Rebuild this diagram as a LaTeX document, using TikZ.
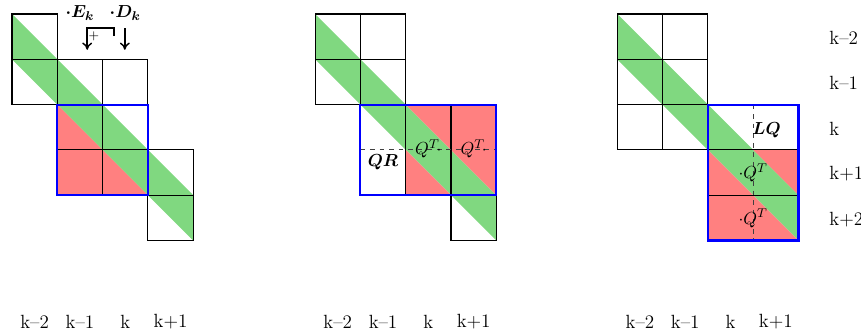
\documentclass[tikz,border=0pt]{standalone}
\usepackage{amsmath,amssymb,bm}
\usepackage{xcolor}
\usepackage{tikz}
\usetikzlibrary{arrows.meta,calc}
\definecolor{bandgreen}{RGB}{128,216,128}
\definecolor{fillred}{RGB}{255,128,128}
\tikzset{
  cell/.style={draw=black,line width=0.7pt},           % one matrix block
  band/.style={fill=bandgreen},                        % banded part
  fillin/.style={fill=fillred},                        % fill-in
  win/.style={draw=blue,line width=1.3pt},             % active window
  cut/.style={draw=black!75,dashed,line width=0.6pt},  % split line
  idx/.style={font=\large,inner sep=1pt},
  op/.style={font=\fontsize{11}{13}\selectfont,inner sep=0.5pt},
  ar/.style={-{To[length=1.6mm,width=2.2mm]},line width=0.9pt}
}

\begin{document}
\begin{tikzpicture}[y=-1cm]
  \useasboundingbox (-0.265,-0.309) rectangle (18.74,7.04);

  % ---- step 1: E_k / D_k acting on the window
  \begin{scope}
    \fill[band] (0,0) -- (4,4) -- (4,5) -- (0,1) -- cycle;
    \fill[fillin] (1,2) -- (3,4) -- (1,4) -- cycle;
    \foreach \c/\r in {0/0,0/1,1/1,2/1,3/3,3/4}
      \draw[cell] (\c,\r) rectangle ++(1,1);
    \draw[cell] (2,2) -- (2,4);
    \draw[cell] (1,3) -- (3,3);
    \draw[win] (1,2) rectangle (3,4);
    \node[op] (Ek) at (1.5,-0.03) {$\bm{\cdot E_k}$};
    \node[op] (Dk) at (2.5,-0.03) {$\bm{\cdot D_k}$};
    \coordinate (dsrc) at (2.25,0.49);
    \coordinate (etip) at (1.66,0.79);
    \coordinate (dtop) at (2.49,0.31);
    \coordinate (dtip) at (2.49,0.79);
    \draw[ar] (dsrc) -- ++(0,-0.18) -| (etip);
    \draw[ar] (dtop) -- (dtip);
    \node[op,font=\footnotesize] (plus) at (1.81,0.5) {$+$};
    \foreach \c/\t in {0/k--2,1/k--1,2/k,3/k+1}
      \node[idx] (ca\c) at (\c+0.5,6.8) {\t};
  \end{scope}

  % ---- step 2: QR of the column block
  \begin{scope}[xshift=6.69cm]
    \fill[band] (0,0) -- (4,4) -- (4,5) -- (0,1) -- cycle;
    \fill[fillin] (2,2) -- (4,2) -- (4,4) -- cycle;
    \fill[fillin] (2,3) -- (3,4) -- (2,4) -- cycle;
    \foreach \c/\r in {0/0,1/0,0/1,1/1,3/4}
      \draw[cell] (\c,\r) rectangle ++(1,1);
    \draw[cell] (2,2) -- (2,4);
    \draw[cell] (3,2) -- (3,4);
    \draw[cut] (1,3) -- (4,3);
    \draw[win] (1,2) rectangle (4,4);
    \node[op,anchor=north] (QR) at (1.5,3.08) {$\bm{QR}$};
    \node[op] (qa) at (2.5,2.98) {$Q^T\!\cdot$};
    \node[op] (qb) at (3.5,2.98) {$Q^T\!\cdot$};
    \foreach \c/\t in {0/k--2,1/k--1,2/k,3/k+1}
      \node[idx] (cb\c) at (\c+0.5,6.8) {\t};
  \end{scope}

  % ---- step 3: LQ of the row block
  \begin{scope}[xshift=13.36cm]
    \fill[band] (0,0) -- (4,4) -- (4,5) -- (0,1) -- cycle;
    \fill[fillin] (3,3) -- (4,3) -- (4,4) -- cycle;
    \fill[fillin] (2,3) -- (4,5) -- (2,5) -- cycle;
    \foreach \c/\r in {0/0,1/0,0/1,1/1,0/2,1/2}
      \draw[cell] (\c,\r) rectangle ++(1,1);
    \draw[cell] (2,3) -- (4,3);
    \draw[cell] (2,4) -- (4,4);
    \draw[cut] (3,2) -- (3,5);
    \draw[win] (2,2) rectangle (4,5);
    \node[op,anchor=west] (LQ) at (2.96,2.56) {$\bm{LQ}$};
    \node[op] (qc) at (3,3.51) {$\cdot Q^T$};
    \node[op] (qd) at (3,4.51) {$\cdot Q^T$};
    \foreach \c/\t in {0/k--2,1/k--1,2/k,3/k+1}
      \node[idx] (cc\c) at (\c+0.5,6.8) {\t};
  \end{scope}

  % row indices on the right
  \foreach \r/\t in {0/k--2,1/k--1,2/k,3/k+1,4/k+2}
    \node[idx,anchor=west] (r\r) at (18.0,\r+0.53) {\t};
\end{tikzpicture}
\end{document}
